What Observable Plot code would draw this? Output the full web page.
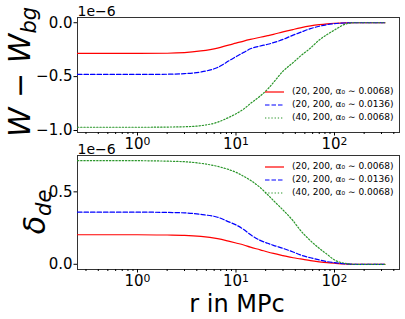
<!DOCTYPE html>
<html><head><meta charset="utf-8">
<script src="https://cdn.jsdelivr.net/npm/d3@7"></script>
<script src="https://cdn.jsdelivr.net/npm/@observablehq/plot@0.6"></script>
<style>
body{margin:0;background:#fff}
#fig{position:relative;width:405px;height:319px;font-family:"DejaVu Sans";background:#fff;overflow:hidden}
.panel{position:absolute;left:0}
.leg{position:absolute;font-size:9px;line-height:11px;white-space:nowrap;color:#000}
.leg svg{vertical-align:middle;margin-right:8px}
</style></head>
<body><div id="fig"></div>
<script>
// radius (MPc)
const r = [0.246, 1, 2, 3, 4.4, 6.5, 8.6, 10, 12, 14, 17.6, 21, 24, 30, 38, 45, 57, 70, 84, 100, 130, 160, 220, 325];
// W - W_bg (units of 1e-6)
const wRed   = [-0.284,-0.284,-0.283,-0.278,-0.262,-0.235,-0.205,-0.19,-0.17,-0.155,-0.135,-0.12,-0.108,-0.085,-0.063,-0.048,-0.03,-0.018,-0.01,-0.005,-0.001,0,0,0];
const wBlue  = [-0.48,-0.48,-0.478,-0.472,-0.457,-0.415,-0.35,-0.315,-0.275,-0.242,-0.216,-0.2,-0.185,-0.155,-0.115,-0.09,-0.055,-0.033,-0.018,-0.008,-0.002,0,0,0];
const wGreen = [-0.97,-0.97,-0.968,-0.965,-0.955,-0.923,-0.875,-0.845,-0.8,-0.75,-0.68,-0.615,-0.555,-0.45,-0.37,-0.31,-0.235,-0.16,-0.11,-0.068,-0.012,0,0,0];
// delta_de (units of 1e-6)
const dRed   = [0.204,0.204,0.202,0.2,0.193,0.177,0.158,0.147,0.133,0.118,0.1,0.085,0.075,0.06,0.045,0.037,0.025,0.017,0.011,0.007,0.002,0,0,0];
const dBlue  = [0.36,0.36,0.358,0.355,0.344,0.325,0.291,0.272,0.24,0.205,0.165,0.145,0.131,0.11,0.085,0.065,0.045,0.03,0.018,0.011,0.003,0,0,0];
const dGreen = [0.715,0.715,0.712,0.708,0.697,0.676,0.652,0.635,0.607,0.58,0.53,0.48,0.44,0.375,0.3,0.235,0.163,0.11,0.069,0.03,0.006,0,0,0];
// labels
const seriesLabels = ["(20, 200, α₀ ∼ 0.0068)", "(20, 200, α₀ ∼ 0.0136)", "(40, 200, α₀ ∼ 0.0068)"];
const xMajor = [1, 10, 100];
const xMajorExp = ["0", "1", "2"];
const yTicksTop = [-1.0, -0.5, 0.0];
const yTicksBot = [0.0, 0.5];
const offsetText = "1e−6";
const xLabel = "r in MPc";

const styles = [
  {stroke:"#ff0000", dash:null, w:1.2},
  {stroke:"#0000ff", dash:"4.5,2", w:1.2},
  {stroke:"#2a962a", dash:"1.3,1.9", w:1.2}
];
const minor = [];
for (const dec of [0.1, 1, 10, 100]) for (let k = 2; k <= 9; k++) {
  const v = k * dec; if (v > 0.246 && v < 457) minor.push(v);
}
const fmtY = d => d.toFixed(1).replace("-", "−");
const fmtX = d => "10^" + xMajorExp[xMajor.indexOf(d)];

function panel(series, yDom, yTicks, opts) {
  const marks = [
    Plot.frame({stroke:"#333", strokeWidth:1}),
    Plot.axisY({ticks:yTicks, tickFormat:fmtY, tickSize:3.5, tickPadding:1.5, fontSize:15, label:null}),
    Plot.axisX({ticks:xMajor, tickFormat:fmtX, tickSize:3.5, tickPadding:2.5, fontSize:15, label:null}),
    Plot.axisX({ticks:minor, tickFormat:() => "", tickSize:2, label:null}),
    Plot.text([offsetText], {frameAnchor:"top-left", textAnchor:"start", lineAnchor:"bottom", dy:-2, fontSize:14})
  ];
  series.forEach((vals, i) => {
    const data = r.map((x, j) => ({r:x, v:vals[j]}));
    marks.push(Plot.line(data, {x:"r", y:"v", stroke:styles[i].stroke, strokeWidth:styles[i].w,
      strokeDasharray:styles[i].dash, curve:"monotone-x", clip:true}));
  });
  const svg = Plot.plot({
    width:405, height:opts.height,
    marginLeft:77, marginRight:6, marginTop:opts.mt, marginBottom:opts.mb,
    style:{fontFamily:"DejaVu Sans", color:"#000", background:"transparent", overflow:"visible"},
    x:{type:"log", domain:[0.246, 457]},
    y:{domain:yDom},
    marks
  });
  // render "10^k" tick labels with a real superscript
  d3.select(svg).selectAll("text").each(function() {
    const t = this.textContent;
    if (/^10\^\d$/.test(t)) {
      const sel = d3.select(this);
      sel.text("10");
      sel.append("tspan").attr("dy", "-0.42em").attr("font-size", "0.72em").text(t.slice(3));
    }
  });
  return svg;
}

const fig = document.getElementById("fig");

const topSvg = panel([wRed, wBlue, wGreen], [-1.0185, 0.0485], yTicksTop, {height:150, mt:17, mb:18});
topSvg.classList.add("panel"); topSvg.style.top = "0px";
fig.appendChild(topSvg);
const botSvg = panel([dRed, dBlue, dGreen], [-0.036, 0.751], yTicksBot, {height:169, mt:5, mb:50});
botSvg.classList.add("panel"); botSvg.style.top = "150px";
fig.appendChild(botSvg);

// y labels with subscripts
function ylabel(svg, x, y, main, sub, size) {
  const t = d3.select(svg).append("text")
    .attr("transform", `translate(${x},${y}) rotate(-90)`)
    .attr("text-anchor", "middle").attr("font-size", size)
    .attr("font-family", "DejaVu Sans").attr("font-style", "italic").attr("fill", "#000");
  t.append("tspan").text(main);
  t.append("tspan").attr("font-size", size * 0.7).attr("dy", size * 0.2).text(sub);
}
ylabel(topSvg, 30, 72, "W − W", "bg", 30);
ylabel(botSvg, 45, 62, "δ", "de", 30);
d3.select(botSvg).append("text").attr("x", 237).attr("y", 161.5).attr("text-anchor", "middle")
  .attr("font-size", 24).attr("font-family", "DejaVu Sans").attr("fill", "#000").text(xLabel);

// legends
function legend(topY) {
  seriesLabels.forEach((lab, i) => {
    const d = document.createElement("div");
    d.className = "leg";
    d.style.left = "265px";
    d.style.top = (topY + i * 13 - 5.5) + "px";
    const s = styles[i];
    d.innerHTML = `<svg width="19" height="4"><line x1="0" x2="19" y1="2" y2="2" stroke="${s.stroke}" stroke-width="${s.w}" ${s.dash ? `stroke-dasharray="${s.dash}"` : ""}/></svg>`;
    const sp = document.createElement("span"); sp.textContent = lab; d.appendChild(sp);
    fig.appendChild(d);
  });
}
legend(91.5);
legend(166.5);
</script></body></html>
